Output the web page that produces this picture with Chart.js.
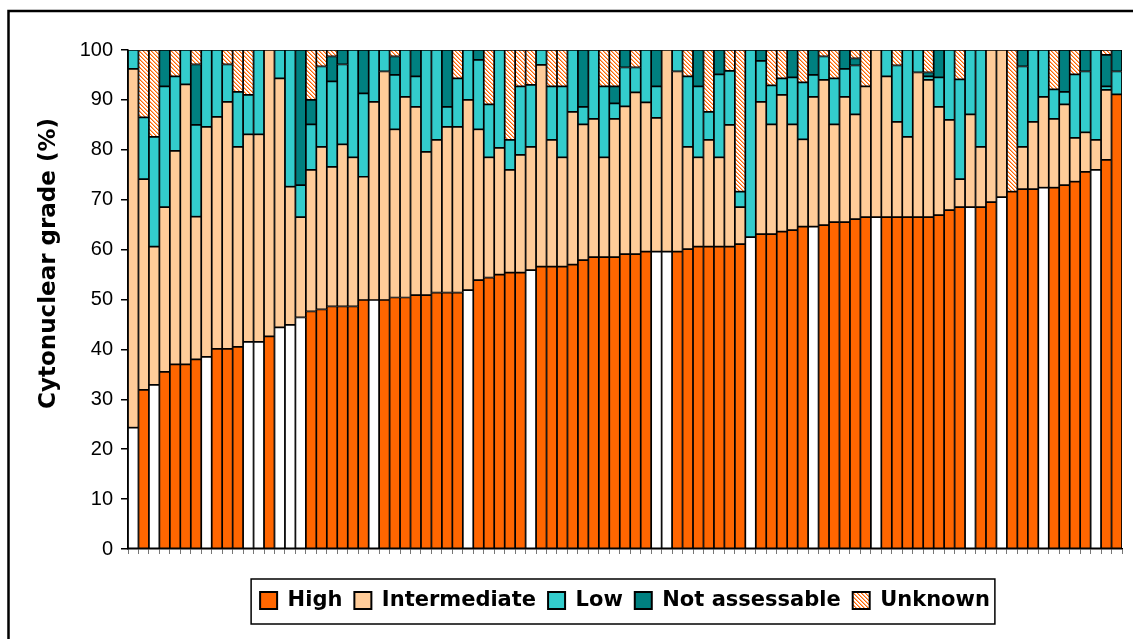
<!DOCTYPE html>
<html>
<head>
<meta charset="utf-8">
<script src="https://cdn.jsdelivr.net/npm/chart.js@4/dist/chart.umd.min.js"></script>
<style>
  html, body { margin: 0; padding: 0; background: #fff; overflow: hidden; }
  canvas { display: block; }
</style>
</head>
<body>
<canvas id="gradeChart" width="1133" height="639"></canvas>
<script>
// percentage of each cytonuclear grade per case, sorted by % high
const high = [24.3,31.9,32.9,35.5,37.0,37.0,38.0,38.5,40.1,40.1,
    40.5,41.5,41.5,42.6,44.4,44.9,46.4,47.6,48.0,48.6,
    48.6,48.6,49.9,49.9,49.9,50.4,50.4,50.9,50.9,51.4,
    51.4,51.4,51.9,53.9,54.4,55.0,55.4,55.4,55.9,56.6,
    56.6,56.6,57.0,57.9,58.5,58.5,58.5,59.1,59.1,59.6,
    59.6,59.6,59.6,60.1,60.6,60.6,60.6,60.6,61.1,62.5,
    63.1,63.1,63.6,63.9,64.6,64.6,64.9,65.5,65.5,66.1,
    66.5,66.5,66.5,66.5,66.5,66.5,66.5,66.9,67.9,68.5,
    68.5,68.5,69.5,70.5,71.6,72.1,72.1,72.4,72.4,72.9,
    73.6,75.6,76.0,78.0,91.1];
const intermediate = [71.9,42.2,27.7,33.0,42.8,56.1,28.6,46.1,46.5,49.5,
    40.1,41.6,41.6,57.4,49.9,27.7,20.1,28.4,32.6,28.0,
    32.5,29.9,24.7,39.7,45.8,33.7,40.2,37.7,28.7,30.6,
    33.2,33.2,38.1,30.2,24.1,25.4,20.6,23.6,24.7,40.4,
    25.4,21.9,30.6,27.2,27.7,20.0,27.7,29.6,32.4,29.9,
    26.8,40.4,36.1,20.5,17.9,21.4,17.9,24.4,7.4,0,
    26.5,22.0,27.4,21.2,17.5,26.0,29.1,19.6,25.1,21.0,
    26.2,33.5,28.2,19.1,16.1,29.0,27.5,21.7,18.1,5.6,
    18.6,12.1,30.5,29.5,0,8.5,13.5,18.2,13.8,16.2,
    8.8,7.9,6.0,14.0,0];
const low = [3.8,12.4,22.0,24.2,14.9,6.9,18.4,15.4,13.4,7.5,
    11.0,7.9,16.9,0,5.7,27.4,6.4,9.1,16.1,17.1,
    16.0,21.5,16.7,10.4,4.3,10.9,9.4,6.1,20.4,18.0,
    4.0,9.7,10.0,13.9,10.6,19.6,6.0,13.7,12.4,3.0,
    10.7,14.2,12.4,3.5,13.8,14.2,3.1,7.8,5.0,10.5,
    6.3,0,4.3,14.1,14.2,5.6,16.6,10.8,3.1,37.5,
    8.2,7.8,3.3,9.4,11.4,4.4,4.7,9.2,5.6,9.8,
    0,0,5.3,11.3,17.4,4.5,0.7,5.9,14.0,20.0,
    12.9,19.4,0,0,0,16.1,14.4,9.4,5.9,2.5,
    12.7,12.2,18.0,0.7,4.6];
const notAssessable = [0,0,0,7.3,0,0,12.1,0,0,0,
    0,0,0,0,0,0,27.1,4.9,0,5.0,
    2.9,0,8.7,0,0,3.7,0,5.3,0,0,
    11.4,0,0,2.0,0,0,0,0,0,0,
    0,0,0,11.4,0,0,3.4,3.5,0,0,
    7.3,0,0,0,7.3,0,4.9,0,0,0,
    2.2,0,0,5.5,0,5.0,0,0,3.8,1.4,
    0,0,0,0,0,0,0.8,5.5,0,0,
    0,0,0,0,0,3.3,0,0,0,8.4,
    0,4.3,0,6.3,4.3];
const unknown = [0,13.5,17.4,0,5.3,0,2.9,0,0,2.9,
    8.4,9.0,0,0,0,0,0,10.0,3.3,1.3,
    0,0,0,0,0,1.3,0,0,0,0,
    0,5.7,0,0,10.9,0,18.0,7.3,7.0,0,
    7.3,7.3,0,0,0,7.3,7.3,0,3.5,0,
    0,0,0,5.3,0,12.4,0,4.2,28.4,0,
    0,7.1,5.7,0,6.5,0,1.3,5.7,0,1.7,
    7.3,0,0,3.1,0,0,4.5,0,0,5.9,
    0,0,0,0,28.4,0,0,0,7.9,0,
    4.9,0,0,1.0,0];
// cases whose "high" part is drawn open (white)
const openCases = [1,3,8,12,13,15,16,17,24,33,39,51,52,60,66,72,81,84,88,93];
const cases = high.map((v, i) => String(i + 1));
const yTicks = [0,10,20,30,40,50,60,70,80,90,100];

const canvas = document.getElementById("gradeChart");
const ctx = canvas.getContext("2d");

function hatchPattern() {
    const c = document.createElement("canvas");
    c.width = 4; c.height = 4;
    const g = c.getContext("2d");
    g.fillStyle = "#fff";
    g.fillRect(0, 0, 4, 4);
    for (let x = 0; x < 4; x++) {
        for (let y = 0; y < 4; y++) {
            const d = (x + 4 - y) % 4;
            if (d === 0) { g.fillStyle = "#FF6600"; g.fillRect(x, y, 1, 1); }
            if (d === 1) { g.fillStyle = "#FFB080"; g.fillRect(x, y, 1, 1); }
        }
    }
    return ctx.createPattern(c, "repeat");
}

const orange = "#FF6600";
const colours = [orange, "#FFCC99", "#33CCCC", "#008080", hatchPattern()];
const highColours = cases.map((c, i) => openCases.includes(i + 1) ? "#FFFFFF" : orange);

const noZero = arr => arr.map(v => v === 0 ? null : v);

function bar(label, data, colour) {
    return {
        label: label,
        data: noZero(data),
        backgroundColor: colour,
        borderColor: "#000",
        borderWidth: 1.2,
        borderSkipped: false,
        categoryPercentage: 1,
        barPercentage: 1
    };
}

// legend frame + outer frame, legend centred under plot
const framePlugin = {
    id: "frames",
    afterUpdate(chart) {
        const lg = chart.legend;
        const ca = chart.chartArea;
        const dx = (ca.left + ca.right) / 2 - (lg.left + lg.right) / 2;
        lg.left += dx;
        lg.right += dx;
        (lg.legendHitBoxes || []).forEach(h => h.left += dx);
    },
    afterDraw(chart) {
        const c = chart.ctx;
        const boxes = chart.legend.legendHitBoxes;
        c.save();
        c.strokeStyle = "#000";
        c.lineWidth = 2.5;
        c.strokeRect(8.5, 11, 1140, 650);
        if (boxes && boxes.length) {
            const first = boxes[0], last = boxes[boxes.length - 1];
            const mid = first.top + first.height / 2 + 1;
            c.lineWidth = 1.5;
            c.strokeRect(first.left - 9, mid - 22.5, last.left + last.width - first.left + 14, 45);
        }
        c.restore();
    }
};

new Chart(ctx, {
    type: "bar",
    data: {
        labels: cases,
        datasets: [
            bar("High", high, highColours),
            bar("Intermediate", intermediate, colours[1]),
            bar("Low", low, colours[2]),
            bar("Not assessable", notAssessable, colours[3]),
            bar("Unknown", unknown, colours[4])
        ]
    },
    options: {
        responsive: false,
        animation: false,
        layout: { padding: { left: 20, right: 11, top: 50, bottom: 18 } },
        scales: {
            x: {
                stacked: true,
                ticks: { display: false },
                grid: { drawOnChartArea: false, tickLength: 5, color: "#777", offset: true },
                border: { color: "#000", width: 1.5 },
                afterFit: s => { s.height = 29; }
            },
            y: {
                stacked: true,
                min: 0,
                max: 100,
                afterBuildTicks: s => { s.ticks = yTicks.map(v => ({ value: v })); },
                ticks: {
                    color: "#000",
                    padding: 8,
                    font: { family: "'Liberation Sans', Arial, sans-serif", size: 20 }
                },
                grid: { drawOnChartArea: false, tickLength: 7, color: "#000", lineWidth: 1.5 },
                border: { color: "#000", width: 1.5 },
                title: {
                    display: true,
                    // leading spaces lift the centred title, as in the original
                    text: "         Cytonuclear grade (%)",
                    color: "#000",
                    padding: { top: 15, bottom: 0 },
                    font: { family: "'DejaVu Sans', sans-serif", size: 23, weight: "bold" }
                },
                afterFit: s => { s.width = 108; }
            }
        },
        plugins: {
            tooltip: { enabled: false },
            legend: {
                position: "bottom",
                labels: {
                    color: "#000",
                    boxWidth: 17,
                    boxHeight: 17,
                    padding: 12,
                    font: { family: "'DejaVu Sans', sans-serif", size: 21, weight: "bold" },
                    generateLabels: chart => Chart.defaults.plugins.legend.labels.generateLabels(chart)
                        .map(item => Object.assign(item, {
                            fillStyle: item.datasetIndex === 0 ? orange : colours[item.datasetIndex],
                            strokeStyle: "#000",
                            lineWidth: 2
                        }))
                }
            }
        }
    },
    plugins: [framePlugin]
});
</script>
</body>
</html>
